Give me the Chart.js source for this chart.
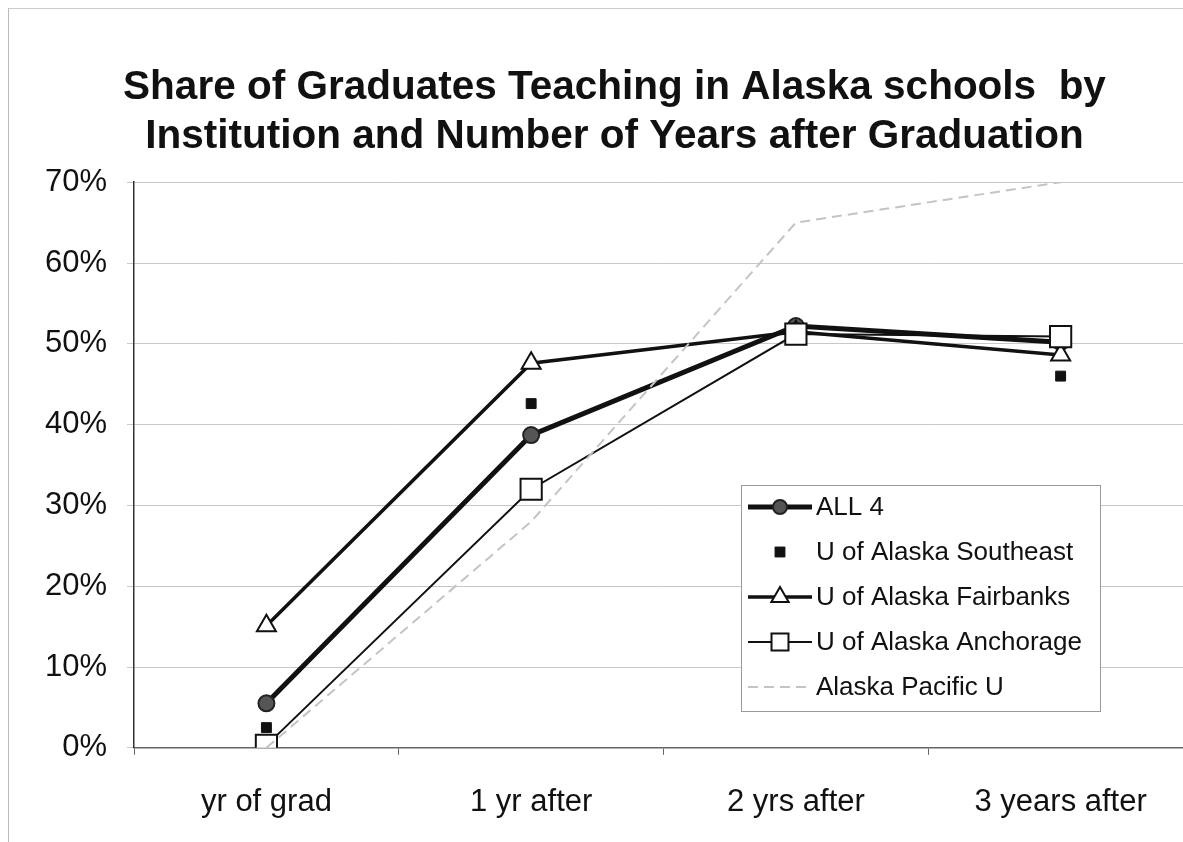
<!DOCTYPE html>
<html>
<head>
<meta charset="utf-8">
<script src="https://cdn.jsdelivr.net/npm/chart.js@4/dist/chart.umd.min.js"></script>
<style>
  html, body { margin: 0; padding: 0; background: #fff; overflow: hidden; }
  #wrap { position: relative; width: 1210px; height: 842px; overflow: hidden; }
  #frame { position: absolute; left: 8px; top: 8px; width: 1300px; height: 900px;
           border-left: 1px solid #bbb; border-top: 1px solid #ccc; pointer-events: none; }
</style>
</head>
<body>
<div id="wrap">
  <canvas id="gradChart" width="1210" height="874"></canvas>
  <div id="frame"></div>
</div>
<script>
  // du lieu doc tu hinh
  const categories = ['yr of grad', '1 yr after', '2 yrs after', '3 years after'];
  const all4 = [5.5, 38.7, 52.2, 50.2];
  const southeast = [2.5, 42.6, 51.8, 46.0];
  const fairbanks = [15.1, 47.6, 51.5, 48.6];
  const anchorage = [0.3, 32.0, 51.2, 50.9];
  const pacific = [0, 28, 65, 70];
  const yTicks = [0, 10, 20, 30, 40, 50, 60, 70];

  const FONT = "'Liberation Sans', Arial, sans-serif";

  // legend ve ben trong vung bieu do
  const boxLegend = {
    id: 'boxLegend',
    afterDraw(chart) {
      const ctx = chart.ctx;
      const x0 = 741, y0 = 485, w = 359, h = 226;
      ctx.save();
      ctx.fillStyle = '#fff';
      ctx.fillRect(x0, y0, w, h);
      ctx.strokeStyle = '#999';
      ctx.lineWidth = 1;
      ctx.strokeRect(x0 + 0.5, y0 + 0.5, w, h);
      chart.data.datasets.forEach(function (ds, i) {
        const y = 507 + i * 45;
        if (ds.showLine !== false) {
          ctx.strokeStyle = ds.borderColor;
          ctx.lineWidth = ds.borderWidth;
          ctx.setLineDash(ds.borderDash || []);
          ctx.beginPath();
          ctx.moveTo(748, y);
          ctx.lineTo(812, y);
          ctx.stroke();
          ctx.setLineDash([]);
        }
        if (ds.pointRadius > 0) {
          ctx.fillStyle = ds.pointBackgroundColor;
          ctx.strokeStyle = ds.pointBorderColor;
          ctx.lineWidth = ds.pointBorderWidth;
          Chart.helpers.drawPoint(ctx, {
            pointStyle: ds.pointStyle,
            radius: ds.legendRadius,
            rotation: 0,
            borderWidth: ds.pointBorderWidth
          }, 780, y);
        }
        ctx.fillStyle = '#111';
        ctx.font = '26px ' + FONT;
        ctx.textBaseline = 'middle';
        ctx.fillText(ds.label, 816, y + 1);
      });
      ctx.restore();
    }
  };

  const ctx = document.getElementById('gradChart').getContext('2d');
  const gradChart = new Chart(ctx, {
    type: 'line',
    data: {
      labels: categories,
      datasets: [
        {
          label: 'ALL 4',
          data: all4,
          order: 5,
          borderColor: '#111',
          borderWidth: 5,
          pointStyle: 'circle',
          pointRadius: 8,
          legendRadius: 7,
          pointBackgroundColor: '#555',
          pointBorderColor: '#222',
          pointBorderWidth: 2
        },
        {
          label: 'U of Alaska Southeast',
          data: southeast,
          order: 4,
          showLine: false,
          borderColor: '#111',
          borderWidth: 0,
          pointStyle: 'rect',
          pointRadius: 7,
          legendRadius: 7,
          pointBackgroundColor: '#111',
          pointBorderColor: '#111',
          pointBorderWidth: 1
        },
        {
          label: 'U of Alaska Fairbanks',
          data: fairbanks,
          order: 3,
          borderColor: '#111',
          borderWidth: 3.5,
          pointStyle: 'triangle',
          pointRadius: 11,
          legendRadius: 10,
          pointBackgroundColor: '#fff',
          pointBorderColor: '#111',
          pointBorderWidth: 2
        },
        {
          label: 'U of Alaska Anchorage',
          data: anchorage,
          order: 2,
          borderColor: '#111',
          borderWidth: 2,
          pointStyle: 'rect',
          pointRadius: 15,
          legendRadius: 12,
          pointBackgroundColor: '#fff',
          pointBorderColor: '#111',
          pointBorderWidth: 2
        },
        {
          label: 'Alaska Pacific U',
          data: pacific,
          order: 1,
          borderColor: '#c4c4c4',
          borderWidth: 2,
          borderDash: [10, 6],
          pointRadius: 0,
          legendRadius: 0,
          pointBackgroundColor: '#ccc',
          pointBorderColor: '#ccc',
          pointBorderWidth: 0
        }
      ]
    },
    options: {
      responsive: false,
      animation: false,
      layout: { padding: { left: 25, right: 6, bottom: 24 } },
      elements: { line: { tension: 0 } },
      plugins: {
        legend: { display: false },
        tooltip: { enabled: false },
        title: {
          display: true,
          text: ['Share of Graduates Teaching in Alaska schools  by',
                 'Institution and Number of Years after Graduation'],
          color: '#111',
          font: { family: FONT, size: 40.5, weight: 'bold', lineHeight: 1.2 },
          padding: { top: 64, bottom: 21 }
        }
      },
      scales: {
        x: {
          offset: true,
          grid: { display: true, drawOnChartArea: false, offset: true, tickLength: 7, color: '#666' },
          border: { color: '#666', width: 1.5 },
          ticks: { color: '#111', padding: 29, font: { family: FONT, size: 31 } }
        },
        y: {
          min: 0,
          max: 70,
          afterBuildTicks(axis) { axis.ticks = yTicks.map(v => ({ value: v })); },
          grid: { color: '#c8c8c8', tickLength: 7, lineWidth: 1 },
          border: { color: '#333', width: 1.5 },
          ticks: {
            color: '#111',
            padding: 20,
            font: { family: FONT, size: 31 },
            callback: v => v + '%'
          }
        }
      }
    },
    plugins: [boxLegend]
  });
</script>
</body>
</html>
